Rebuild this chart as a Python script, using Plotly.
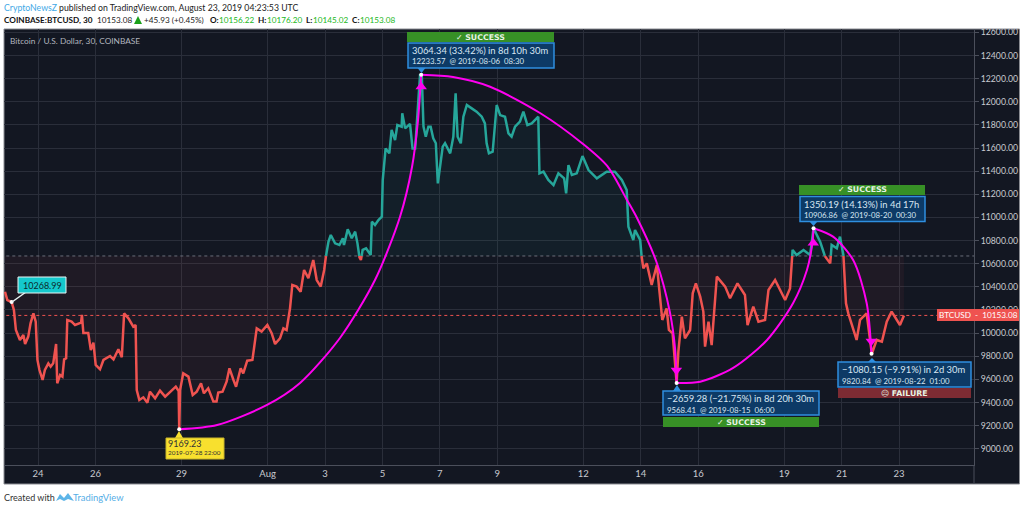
import plotly.graph_objects as go

W, H = 1024, 509
L, R, T, B = 4, 974, 29, 465

# days counted from 1 July 2019 (1 Aug = 32)
DAYS = [22.85,22.93,23.08,23.16,23.23,23.31,23.37,23.49,23.55,23.66,23.74,23.84,23.92,23.98,24.05,24.16,24.24,24.36,24.44,24.53,24.63,24.67,24.77,24.85,24.91,24.98,25.02,25.17,25.29,25.50,25.53,25.58,25.75,25.84,25.93,26.01,26.16,26.28,26.51,26.63,26.80,26.92,27.0,27.15,27.32,27.40,27.44,27.53,27.67,27.81,27.90,28.08,28.25,28.43,28.6,28.80,28.90,28.92,28.95,29.06,29.24,29.39,29.53,29.68,29.78,29.93,30.11,30.22,30.28,30.43,30.57,30.67,30.81,30.90,31.06,31.15,31.29,31.47,31.62,31.79,31.99,32.14,32.26,32.43,32.55,32.66,
32.78,32.86,33.01,33.15,33.27,33.42,33.59,33.71,33.85,33.97,34.03,34.12,34.2,34.35,34.5,34.62,34.66,34.79,34.93,35.05,35.13,35.2,35.25,35.31,35.43,35.59,35.63,35.74,35.86,35.98,36.01,
36.11,36.24,36.32,36.44,36.52,36.67,36.69,36.79,36.96,37.05,37.14,37.31,37.37,37.43,37.51,37.6,37.68,37.77,37.86,37.93,38.01,38.1,38.18,38.26,38.36,38.47,38.55,38.62,38.73,38.82,38.94,39.11,39.28,39.46,39.57,39.63,39.71,39.84,39.98,40.10,40.27,40.39,40.5,40.62,40.79,40.91,41.05,41.2,41.43,41.47,41.61,41.78,41.96,42.13,42.33,42.4,42.48,42.6,42.77,42.97,43.18,43.47,43.81,44.1,44.34,44.51,
44.57,44.74,44.8,44.98,45.03,45.09,45.21,45.38,45.56,45.67,45.75,45.9,45.98,46.11,46.2,46.25,46.31,46.43,46.54,46.72,46.81,46.92,47.07,47.18,47.24,47.36,47.47,47.65,47.94,48.11,48.37,48.63,48.72,48.92,49.1,49.33,49.45,49.68,50.03,50.2,50.29,50.43,50.67,50.9,51.02,51.25,51.39,51.6,51.65,51.83,51.94,52.06,52.15,52.23,52.52,52.64,52.87,53.05,53.22,53.4,53.57,53.74,54.03,54.17]
PRICES = [10358,10286,10268.99,10200,10027,9984,9941,9984,9906,9970,10085,10171,10099,9768,9681,9595,9681,9739,9710,9739,9906,9566,9638,9624,9773,9782,10113,10099,10070,10090,10157,10000,10000,9854,9917,9725,9687,9768,9802,9773,9860,9791,10171,10128,10056,10070,9508,9422,9445,9399,9494,9436,9503,9451,9494,9537,9500,9169.23,9508,9652,9624,9465,9494,9566,9480,9523,9408,9408,9486,9494,9580,9696,9595,9537,9696,9652,9762,9768,10041,10013,10070,10000,9906,9955,10041,10027,
10214,10416,10402,10358,10546,10474,10632,10459,10402,10546,10661,10791,10848,10776,10762,10820,10762,10897,10820,10877,10776,10655,10632,10719,10733,10675,10963,10935,10978,11007,11323,
11597,11554,11756,11669,11799,11785,11900,11770,11808,11597,11597,12231,12233.57,11785,11698,11785,11785,11684,11641,11295,11468,11612,11641,11597,11554,11698,12073,11698,11641,11871,11972,11943,11914,11871,11813,11641,11554,11568,11972,11885,11871,11727,11698,11785,11828,11914,11799,11813,11871,11381,11396,11324,11280,11381,11338,11208,11453,11367,11381,11531,11410,11338,11396,11396,11324,11237,
10920,10805,10891,10805,10661,10560,10603,10416,10589,10315,10114,10214,10027,9998,9667,9568.41,9840,10142,9955,10027,10344,10430,10315,10186,9883,10099,9897,10488,10402,10301,10430,10330,10070,10229,10099,10114,10373,10459,10286,10387,10719,10675,10719,10675,10906.86,10791,10675,10603,10762,10733,10834,10675,10258,10171,9941,10114,10171,9820.84,9941,9926,10099,10186,10070,10153.08]
BASELINE = 10667
LAST = 10153.08

ARC_DAYS = [[28.91,30.24,31.98,33.13,34.52,35.74,36.61,37.03,37.24,37.35],
            [37.35,38.46,39.75,41.49,42.99,43.83,44.52,44.87,45.56,46.02,46.2,46.25],
            [46.25,47.07,48.22,49.4,50.31,50.79,50.97,51.02],
            [51.02,51.7,52.4,52.87,53.04]]
ARC_PRICES = [[9169,9206,9379,9569,9958,10459,11004,11436,11842,12233],
              [12233,12214,12130,11903,11635,11445,11151,10995,10606,10174,9854,9568],
              [9568,9580,9699,9941,10261,10546,10762,10907],
              [10907,10834,10632,10261,9821]]
PIVOT_DAYS = [23.08,28.92,37.35,46.25,51.02,53.04]
PIVOT_PRICES = [10268.99,9169.23,12233.57,9568.41,10906.86,9820.84]
ARROW_DAYS = [37.35,46.24,51.01,53.03]
ARROW_PRICES = [12130,9680,10780,9930]
ARROW_SYMBOLS = ["triangle-up","triangle-down","triangle-up","triangle-down"]

X_TICKS = [24,26,29,32,34,36,38,40,43,45,47,50,52,54]
X_LABELS = ["24","26","29","Aug","3","5","7","9","12","14","16","19","21","23"]
Y_TICKS = [9000+200*i for i in range(19)]
Y_LABELS = [f"{v:.2f}" for v in Y_TICKS]

BG="#131722"; GRID="#2a2e3a"; TEAL="#26a69a"; RED="#ef5350"; MAG="#ff00f0"
FONT="Lato"; GREEN="#22b822"

def px(x): return (x-L)/(R-L)
def py(y): return (B-y)/(B-T)

# split the series at the baseline so each side gets its colour
xs, ys = [DAYS[0]], [PRICES[0]]
for i in range(1, len(DAYS)):
    a, b = PRICES[i-1], PRICES[i]
    if (a-BASELINE)*(b-BASELINE) < 0:
        t = (BASELINE-a)/(b-a)
        xs.append(DAYS[i-1]+t*(DAYS[i]-DAYS[i-1])); ys.append(BASELINE)
    xs.append(DAYS[i]); ys.append(b)
upper = [y if y>=BASELINE else None for y in ys]
lower = [y if y<=BASELINE else None for y in ys]

fig = go.Figure()
base = [BASELINE]*len(xs)
fig.add_scatter(x=xs,y=base,mode="lines",line=dict(width=0),showlegend=False,hoverinfo="skip")
fig.add_scatter(x=xs,y=[max(y,BASELINE) for y in ys],mode="lines",line=dict(width=0),fill="tonexty",fillcolor="rgba(38,166,154,0.06)",showlegend=False,hoverinfo="skip")
fig.add_scatter(x=xs,y=base,mode="lines",line=dict(width=0),showlegend=False,hoverinfo="skip")
fig.add_scatter(x=xs,y=[min(y,BASELINE) for y in ys],mode="lines",line=dict(width=0),fill="tonexty",fillcolor="rgba(239,83,80,0.06)",showlegend=False,hoverinfo="skip")
fig.add_scatter(x=[DAYS[0]-1,60],y=[BASELINE,BASELINE],mode="lines",line=dict(color="#6b6f7a",width=1,dash="dot"),showlegend=False,hoverinfo="skip")
fig.add_scatter(x=[DAYS[0]-1,60],y=[LAST,LAST],mode="lines",line=dict(color=RED,width=1,dash="dot"),showlegend=False,hoverinfo="skip")
fig.add_scatter(x=xs,y=upper,mode="lines",line=dict(color=TEAL,width=2.5),connectgaps=False,showlegend=False,hoverinfo="skip")
fig.add_scatter(x=xs,y=lower,mode="lines",line=dict(color=RED,width=2.5),connectgaps=False,showlegend=False,hoverinfo="skip")
for ax, ay in zip(ARC_DAYS, ARC_PRICES):
    fig.add_scatter(x=ax,y=ay,mode="lines",line=dict(color=MAG,width=2,shape="spline",smoothing=0.8),showlegend=False,hoverinfo="skip")
fig.add_scatter(x=ARROW_DAYS,y=ARROW_PRICES,mode="markers",marker=dict(symbol=ARROW_SYMBOLS,size=10,color=MAG),showlegend=False,hoverinfo="skip")
fig.add_scatter(x=PIVOT_DAYS,y=PIVOT_PRICES,mode="markers",marker=dict(size=4,color="white"),showlegend=False,hoverinfo="skip")

shapes=[]; annos=[]
def rect(x0,y0,x1,y1,fill,line=None,lw=1,layer="above"):
    shapes.append(dict(type="rect",xref="paper",yref="paper",x0=px(x0),x1=px(x1),y0=py(y1),y1=py(y0),
                       fillcolor=fill,line=dict(color=line or fill,width=lw if line else 0),layer=layer))
def seg(x0,y0,x1,y1,color,lw=1,layer="above"):
    shapes.append(dict(type="line",xref="paper",yref="paper",x0=px(x0),x1=px(x1),y0=py(y0),y1=py(y1),
                       line=dict(color=color,width=lw),layer=layer))
def tri(pts,color):
    d="M"+" L".join(f"{px(x):.5f},{py(y):.5f}" for x,y in pts)+" Z"
    shapes.append(dict(type="path",xref="paper",yref="paper",path=d,fillcolor=color,line=dict(width=0),layer="above"))
def text(x,y,s,color="#000",size=11,anchor="left",bold=False,font=FONT):
    if bold: s=f"<b>{s}</b>"
    annos.append(dict(xref="paper",yref="paper",x=px(x),y=py(y),text=s,showarrow=False,xanchor=anchor,yanchor="middle",
                      font=dict(family=font,size=size,color=color),borderpad=0,borderwidth=0))

# chart frame
rect(4,29,1019.5,484,BG,"#8a8c92",1,layer="below")
seg(974,465,974,484,"#4b4f5b")

# heading
text(4,8,"<span style='color:#3fa9e6'>CryptoNewsZ</span> published on TradingView.com, August 23, 2019 04:23:53 UTC","#222",8.7)
text(4,20,"COINBASE:BTCUSD, 30","#111",8.2,bold=True)
text(97,20,"10153.08","#222",8.2)
tri([(134,24),(142,24),(138,16)],"#1aa01a")
text(144,20,"+45.93 (+0.45%)","#222",8.2)
for xl,lab,xv,val in [(210,"O:",219,"10156.22"),(258,"H:",267,"10176.20"),(306,"L:",313,"10145.02"),(352,"C:",360,"10153.08")]:
    text(xl,20,lab,"#111",8.2,bold=True)
    text(xv,20,val,GREEN,8.2)
text(10,41,"Bitcoin / U.S. Dollar, 30, COINBASE","#b2b5be",8.3)

# footer
text(4,497,"Created with","#333",9)
tri([(56,501),(60,494),(64,498),(68,493),(74,501),(68,499),(64,501),(60,499)],"#5db5e8")
text(73,497,"TradingView","#55aee6",9.4)

# pivot labels
BLUE="#0d3a66"; EDGE="#2f8fe0"
def box(x0,y0,x1,y1,tipx,tipy,l1,l2):
    rect(x0,y0,x1,y1,BLUE,EDGE,1.5)
    if tipy<y0: tri([(tipx-4,y0),(tipx+4,y0),(tipx,tipy)],EDGE)
    else: tri([(tipx-4,y1),(tipx+4,y1),(tipx,tipy)],EDGE)
    text(x0+4,y0+7.5,l1,"#d8e6f2",9.4)
    text(x0+4,y0+18.5,l2,"#d8e6f2",7.8)
def flag(x0,y0,x1,y1,color,s):
    rect(x0,y0,x1,y1,color)
    text((x0+x1)/2,(y0+y1)/2,s,"#e8f3e4",7.8,anchor="center",bold=True,font="DejaVu Sans")

flag(407,32,554,42,"#379026","✓ SUCCESS")
box(408,43,554,68,421.5,73,"3064.34 (33.42%) in 8d 10h 30m","12233.57  @ 2019-08-06  08:30")
box(663,391,819,415,677,385,"−2659.28 (−21.75%) in 8d 20h 30m","9568.41  @ 2019-08-15  06:00")
flag(663,417,819,427,"#379026","✓ SUCCESS")
flag(799,185,925,195,"#379026","✓ SUCCESS")
box(800,196.5,925,221.5,813.5,226,"1350.19 (14.13%) in 4d 17h","10906.86  @ 2019-08-20  00:30")
box(838,362,971,387,872,358,"−1080.15 (−9.91%) in 2d 30m","9820.84  @ 2019-08-22  01:00")
flag(838,388,971,398,"#7d2b33","☹ FAILURE")

# yellow and teal labels
tri([(175,438),(183,438),(179,431)],"#f8e02e")
rect(166,438,224,459,"#f8e02e","#c9b52a",1)
text(168,443.5,"9169.23","#333",9)
text(168,452.5,"2019-07-28 22:00","#333",6.4)
seg(12,302,26,292,"#e8f4f4",1.5)
rect(18,277,66,293,"#14c8cc","#e8f4f4",1)
text(42,285,"10268.99","#0d2a2c",9,anchor="center")

# last-price tag
rect(937,309,1019,321,RED)
text(978,315,"BTCUSD  -  10153.08","#fff",8.2,anchor="center")

fig.update_layout(width=W,height=H,autosize=False,margin=dict(l=L,r=W-R,t=T,b=H-B),
    paper_bgcolor="white",plot_bgcolor=BG,showlegend=False,shapes=shapes,annotations=annos,
    xaxis=dict(range=[22.815,56.61],tickvals=X_TICKS,ticktext=X_LABELS,showgrid=True,gridcolor=GRID,gridwidth=1,
               zeroline=False,showline=True,linecolor="#4b4f5b",ticks="",tickfont=dict(family=FONT,size=9.5,color="#c8cad0")),
    yaxis=dict(range=[8860,12629],side="right",tickvals=Y_TICKS,ticktext=Y_LABELS,showgrid=True,gridcolor=GRID,gridwidth=1,
               zeroline=False,showline=True,linecolor="#4b4f5b",ticks="outside",ticklen=4,tickcolor="#4b4f5b",
               tickfont=dict(family=FONT,size=8.7,color="#c8cad0")))
fig.write_html("out.html", config={"displayModeBar":False}, post_script="document.body.style.margin='0';document.body.style.overflow='hidden';")
